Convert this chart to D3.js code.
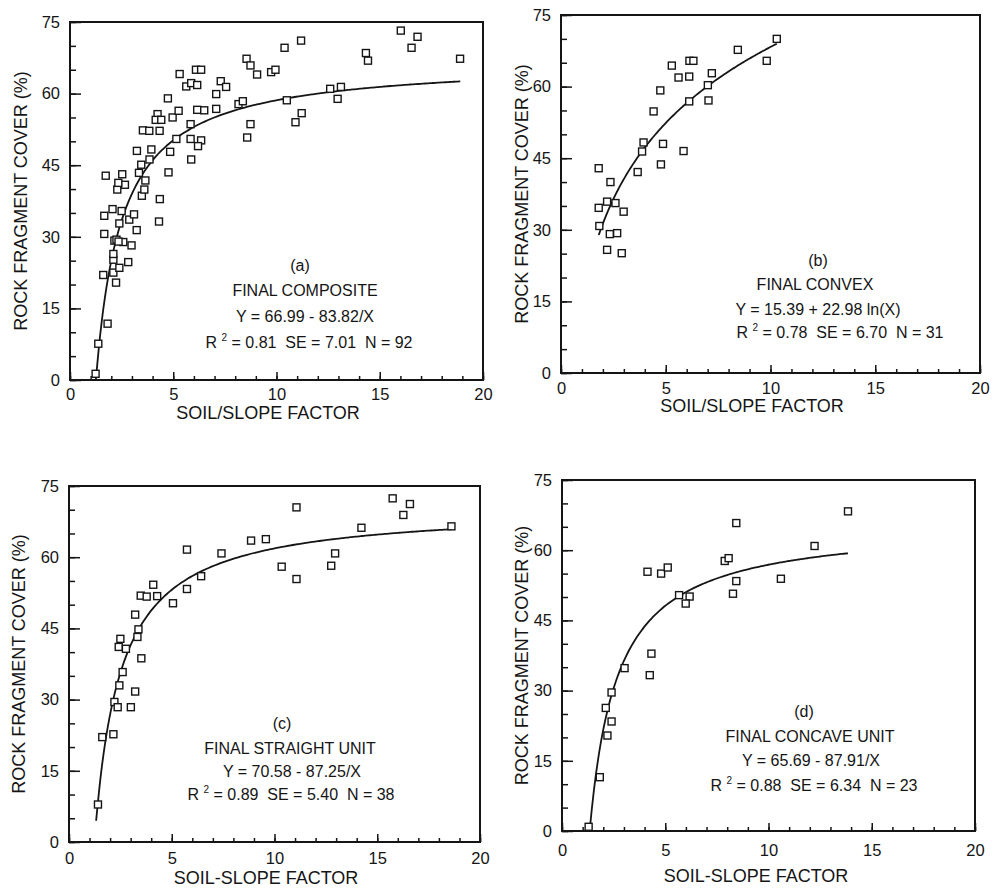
<!DOCTYPE html>
<html>
<head>
<meta charset="utf-8">
<script src="https://cdn.jsdelivr.net/npm/d3@7"></script>
<style>
  body { margin: 0; background: #fff; }
  text { font-family: "Liberation Sans", Arial, sans-serif; fill: #151515; }
  .note { white-space: pre; }
</style>
</head>
<body>
<svg id="chart"></svg>
<script>
// tick labels
var xTicks = [0, 5, 10, 15, 20];
var yTicks = [0, 15, 30, 45, 60, 75];

// (a) final composite : [soil/slope factor, rock fragment cover %]
var compositePts = [
  [1.24,1.3],[1.37,7.6],[1.82,11.8],[1.61,22.0],[2.10,22.5],[2.23,20.4],[2.39,23.5],
  [2.82,24.7],[2.10,25.2],[2.10,26.4],[2.98,28.2],[2.58,28.9],[2.15,29.2],[2.25,29.4],
  [2.35,29.0],[1.66,30.6],[3.23,31.4],[2.39,32.8],[4.31,33.2],[2.87,33.6],[1.66,34.4],
  [3.10,34.7],[2.50,35.4],[2.06,35.8],[4.35,37.9],[3.48,38.6],[3.60,39.9],[2.29,39.9],
  [2.66,40.9],[2.34,41.3],[1.73,42.8],[2.53,43.1],[3.24,48.0],[3.53,52.3],[3.84,52.2],
  [4.34,52.2],[4.24,55.7],[4.15,54.5],[4.42,54.5],[4.74,59.0],[4.97,55.0],[5.26,56.4],
  [5.31,64.1],[5.63,61.5],[5.87,62.2],[6.16,61.8],[6.10,65.0],[6.35,65.0],[5.84,53.6],
  [5.15,50.5],[5.84,50.5],[6.35,50.2],[6.20,49.0],[4.85,47.8],[5.87,46.2],[4.77,43.5],
  [6.16,56.6],[6.50,56.5],[7.08,56.8],[7.08,59.9],[7.30,62.6],[7.56,61.4],[8.16,57.8],
  [8.37,58.4],[8.74,53.6],[8.58,50.8],[8.55,67.3],[8.74,65.9],[9.06,64.0],[9.74,64.5],
  [9.95,65.0],[3.94,48.3],[3.85,46.2],[3.45,45.1],[3.34,43.4],[3.65,41.8],
  [10.39,69.6],[11.19,71.1],[10.50,58.6],[11.22,55.9],[10.92,54.0],[12.60,61.0],
  [13.12,61.4],[12.96,58.9],[14.33,68.5],[14.43,66.9],[16.02,73.2],[16.83,71.9],
  [16.54,69.6],[18.89,67.3]
];

// (b) final convex
var convexPts = [
  [1.80,42.9],[2.36,40.0],[2.20,35.9],[2.60,35.6],[1.80,34.6],[2.99,33.8],[3.66,42.1],
  [3.87,46.4],[3.94,48.3],[4.42,54.8],[4.74,59.2],[4.87,48.0],[4.77,43.7],[5.29,64.4],
  [5.61,61.9],[6.12,62.1],[6.13,65.4],[6.32,65.4],[6.12,56.9],[5.85,46.5],[7.01,60.3],
  [7.20,62.8],[7.04,57.1],[8.44,67.7],[9.82,65.4],[10.30,70.0],[1.83,30.8],[2.33,29.1],
  [2.68,29.3],[2.20,25.8],[2.90,25.1]
];

// (c) final straight unit
var straightPts = [
  [5.74,61.6],[7.42,60.8],[8.86,63.5],[9.58,63.8],[6.43,56.0],[5.74,53.3],[5.06,50.3],
  [4.10,54.2],[3.49,51.9],[3.78,51.7],[4.29,51.8],[3.22,47.9],[3.38,44.8],[3.33,43.2],
  [2.50,42.8],[2.42,41.1],[2.77,40.7],[3.52,38.7],[2.61,35.8],[2.45,33.0],[3.22,31.7],
  [2.21,29.5],[2.37,28.4],[3.01,28.4],[1.62,22.1],[2.16,22.7],[1.41,7.9],
  [11.07,70.5],[15.75,72.4],[16.59,71.2],[16.27,68.9],[14.23,66.2],[18.61,66.5],
  [12.95,60.8],[12.76,58.2],[10.35,58.0],[11.07,55.4]
];

// (d) final concave unit
var concavePts = [
  [8.44,65.8],[7.88,57.7],[8.07,58.3],[4.14,55.4],[4.80,55.0],[5.12,56.3],[5.67,50.4],
  [6.18,50.1],[5.99,48.6],[8.44,53.4],[8.28,50.7],[4.33,37.9],[3.03,34.8],[4.25,33.3],
  [2.40,29.6],[2.12,26.3],[2.40,23.4],[2.20,20.4],[1.83,11.5],[1.29,0.9],
  [13.85,68.3],[12.23,60.9],[10.60,53.9]
];

// fitted models as printed on each panel
var fits = {
  a: { a: 66.99, b: -83.82, kind: "inv", from: 1.25, to: 18.9 },
  b: { a: 15.39, b: 22.98, kind: "log", from: 1.8, to: 10.3 },
  c: { a: 70.58, b: -87.25, kind: "inv", from: 1.32, to: 18.6 },
  d: { a: 65.69, b: -87.91, kind: "inv", from: 1.34, to: 13.85 }
};

var notes = {
  a: ["(a)", "FINAL COMPOSITE", "Y = 66.99 - 83.82/X", ["0.81", "7.01", "92"]],
  b: ["(b)", "FINAL CONVEX", "Y = 15.39 + 22.98 ln(X)", ["0.78", "6.70", "31"]],
  c: ["(c)", "FINAL STRAIGHT UNIT", "Y = 70.58 - 87.25/X", ["0.89", "5.40", "38"]],
  d: ["(d)", "FINAL CONCAVE UNIT", "Y = 65.69 - 87.91/X", ["0.88", "6.34", "23"]]
};

// panel layout
var panels = [
  { key: "a", pts: compositePts, left: 70, right: 483, top: 22, bottom: 380,
    xTitle: "SOIL/SLOPE FACTOR", titleX: 268, titleY: 414, labY: 394, yTitleX: 22,
    noteX: [300, 305, 305, 309], noteY: [267, 292, 318, 344] },
  { key: "b", pts: convexPts, left: 561, right: 980, top: 15, bottom: 373,
    xTitle: "SOIL/SLOPE FACTOR", titleX: 752, titleY: 407, labY: 388, yTitleX: 523,
    noteX: [818, 815, 818, 840], noteY: [262, 286, 311, 334] },
  { key: "c", pts: straightPts, left: 69, right: 480, top: 486, bottom: 842,
    xTitle: "SOIL-SLOPE FACTOR", titleX: 266, titleY: 879, labY: 858, yTitleX: 20,
    noteX: [282, 290, 292, 291], noteY: [725, 750, 773, 796] },
  { key: "d", pts: concavePts, left: 562, right: 975, top: 480, bottom: 831,
    xTitle: "SOIL-SLOPE FACTOR", titleX: 756, titleY: 877, labY: 850, yTitleX: 523,
    noteX: [804, 810, 811, 814], noteY: [713, 738, 762, 787] }
];

var svg = d3.select("#chart")
  .attr("width", 1001)
  .attr("height", 891);

panels.forEach(function(p) {
  var x = d3.scaleLinear().domain([0, 20]).range([p.left, p.right]);
  var y = d3.scaleLinear().domain([0, 75]).range([p.bottom, p.top]);
  var g = svg.append("g");

  // inward ticks along the bottom
  g.append("g")
    .attr("transform", "translate(0," + p.bottom + ")")
    .call(d3.axisTop(x).tickValues(d3.range(0, 21, 1)).tickSize(4).tickFormat(""));
  g.append("g")
    .attr("transform", "translate(0," + p.bottom + ")")
    .call(d3.axisTop(x).tickValues(xTicks).tickSize(8).tickFormat(""));
  g.append("g")
    .attr("class", "xlab")
    .attr("transform", "translate(0," + p.labY + ")")
    .call(d3.axisBottom(x).tickValues(xTicks).tickSize(0).tickPadding(0));

  // inward ticks along the left
  g.append("g")
    .attr("transform", "translate(" + p.left + ",0)")
    .call(d3.axisRight(y).tickValues(d3.range(0, 76, 5)).tickSize(6).tickFormat(""));
  g.append("g")
    .attr("transform", "translate(" + p.left + ",0)")
    .call(d3.axisRight(y).tickValues(yTicks).tickSize(11).tickFormat(""));
  g.append("g")
    .attr("class", "ylab")
    .attr("transform", "translate(" + p.left + ",0)")
    .call(d3.axisLeft(y).tickValues(yTicks).tickSize(0).tickPadding(10));

  g.selectAll(".domain").remove();
  g.selectAll(".tick line").attr("stroke", "#151515").attr("stroke-width", 1.5);
  g.selectAll(".xlab text, .ylab text")
    .style("font-family", '"Liberation Sans", Arial, sans-serif')
    .style("font-size", "16.5px")
    .attr("fill", "#151515");
  g.selectAll(".xlab text").attr("y", 0).attr("dy", "0.35em");

  // frame
  g.append("rect")
    .attr("x", p.left).attr("y", p.top)
    .attr("width", p.right - p.left).attr("height", p.bottom - p.top)
    .attr("fill", "none").attr("stroke", "#151515").attr("stroke-width", 2);

  // fitted curve
  var f = fits[p.key];
  var xs = d3.range(0, 121).map(function(i) { return f.from + (f.to - f.from) * i / 120; });
  var line = d3.line()
    .x(function(v) { return x(v); })
    .y(function(v) { return y(f.kind == "log" ? f.a + f.b * Math.log(v) : f.a + f.b / v); })
    .curve(d3.curveBasis);
  g.append("path")
    .attr("d", line(xs))
    .attr("fill", "none").attr("stroke", "#151515").attr("stroke-width", 1.8);

  // observations
  g.selectAll("rect.pt")
    .data(p.pts)
    .enter().append("rect")
      .attr("class", "pt")
      .attr("x", function(d) { return x(d[0]) - 3.5; })
      .attr("y", function(d) { return y(d[1]) - 3.5; })
      .attr("width", 7).attr("height", 7)
      .attr("fill", "#fff").attr("stroke", "#151515").attr("stroke-width", 1.4);

  // axis titles
  g.append("text")
    .attr("x", p.titleX).attr("y", p.titleY)
    .attr("text-anchor", "middle").attr("dominant-baseline", "middle")
    .style("font-size", "18px")
    .text(p.xTitle);
  g.append("text")
    .attr("transform", "translate(" + p.yTitleX + "," + (p.top + p.bottom) / 2 + ") rotate(-90)")
    .attr("text-anchor", "middle").attr("dominant-baseline", "middle")
    .style("font-size", "18px")
    .text("ROCK FRAGMENT COVER (%)");

  // regression notes
  var n = notes[p.key];
  for (var i = 0; i < 3; i++) {
    g.append("text")
      .attr("class", "note")
      .attr("x", p.noteX[i]).attr("y", p.noteY[i])
      .attr("text-anchor", "middle").attr("dominant-baseline", "middle")
      .style("font-size", "16px")
      .text(n[i]);
  }
  var r = g.append("text")
    .attr("class", "note")
    .attr("x", p.noteX[3]).attr("y", p.noteY[3])
    .attr("text-anchor", "middle").attr("dominant-baseline", "middle")
    .style("font-size", "16px");
  r.append("tspan").text("R ");
  r.append("tspan").attr("dy", -6).style("font-size", "10px").text("2");
  r.append("tspan").attr("dy", 6).text(" = " + n[3][0] + "  SE = " + n[3][1] + "  N = " + n[3][2]);
});
</script>
</body>
</html>
